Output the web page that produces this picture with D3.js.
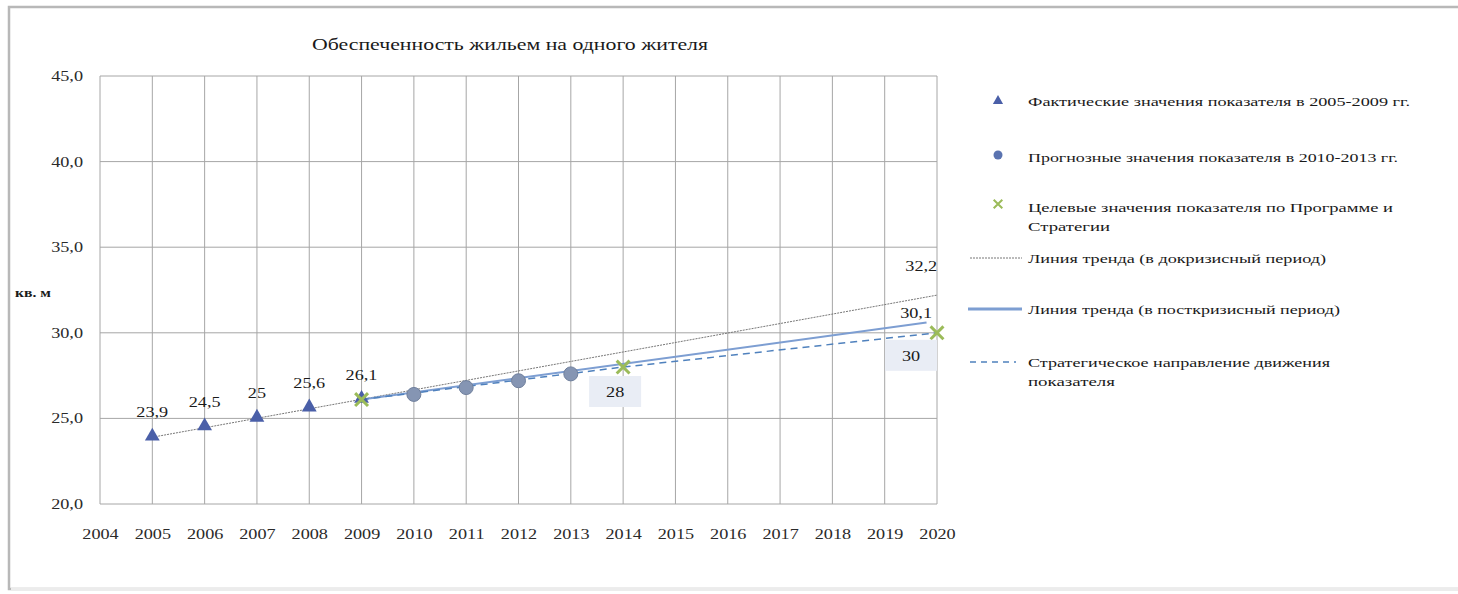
<!DOCTYPE html>
<html lang="ru">
<head>
    <meta charset="UTF-8">
    <title>Обеспеченность жильем на одного жителя</title>
    <style>
        body {
            margin: 0;
            background: #fff;
            overflow: hidden;
        }
        svg text {
            font-family: "Liberation Serif", "DejaVu Serif", serif;
            fill: #1a1a1a;
        }
        .tick text {
            font-size: 14px;
            fill: #2a2a2a;
        }
        .grid line {
            stroke: #a6a6a6;
            stroke-width: 1;
        }
    </style>
</head>
<body>
    <svg id="chart" width="1458" height="594"></svg>
    <script src="https://d3js.org/d3.v7.min.js"></script>
    <script>
        // values
        const yearTicks = d3.range(2004, 2021);
        const valueTicks = [20, 25, 30, 35, 40, 45];

        const actualYears = [2005, 2006, 2007, 2008, 2009];
        const actualValues = [23.9, 24.5, 25, 25.6, 26.1];

        const forecastYears = [2010, 2011, 2012, 2013];
        const forecastValues = [26.4, 26.8, 27.2, 27.6];

        const targetYears = [2009, 2014, 2020];
        const targetValues = [26.1, 28, 30];

        const preTrendYears = [2005, 2020];
        const preTrendValues = [23.9, 32.2];

        const postTrendYears = [2009, 2019.8];
        const postTrendValues = [26.1, 30.6];

        const strategyYears = [2009, 2014, 2020];
        const strategyValues = [26.1, 28, 30];

        const legendLabels = [
            ["Фактические значения показателя в 2005-2009 гг."],
            ["Прогнозные значения показателя в 2010-2013 гг."],
            ["Целевые значения показателя по Программе и", "Стратегии"],
            ["Линия тренда (в докризисный период)"],
            ["Линия тренда (в посткризисный период)"],
            ["Стратегическое направление движения", "показателя"]
        ];

        const triColor = "#4a5fa8";
        const circColor = "#8595b3";
        const xColor = "#9bbb59";
        const postColor = "#7d9ed2";
        const dashColor = "#4f81bd";

        const svg = d3.select("#chart");
        const comma = s => String(s).replace(".", ",");

        // outer frame (right edge runs past the picture)
        svg.append("rect")
            .attr("x", 9).attr("y", 7)
            .attr("width", 1470).attr("height", 582)
            .attr("fill", "#fff")
            .attr("stroke", "#b8b8b8")
            .attr("stroke-width", 2.5);
        svg.append("line")
            .attr("x1", 11).attr("x2", 1458).attr("y1", 589).attr("y2", 589)
            .attr("stroke", "#ececec").attr("stroke-width", 3);

        const x = d3.scaleLinear().domain([2004, 2020]).range([100, 937]);
        const y = d3.scaleLinear().domain([20, 45]).range([504, 76]);

        // grid
        const grid = svg.append("g").attr("class", "grid");
        grid.selectAll(".v").data(yearTicks).enter().append("line")
            .attr("x1", d => x(d)).attr("x2", d => x(d))
            .attr("y1", y(45)).attr("y2", y(20));
        grid.selectAll(".h").data(valueTicks).enter().append("line")
            .attr("x1", x(2004)).attr("x2", x(2020))
            .attr("y1", d => y(d)).attr("y2", d => y(d));

        // axes (labels only)
        svg.append("g")
            .attr("transform", `translate(${x(2004)},0)`)
            .call(d3.axisLeft(y).tickValues(valueTicks).tickSize(0).tickPadding(17)
                .tickFormat(d => comma(d3.format(".1f")(d))));
        svg.append("g")
            .attr("transform", `translate(0,${y(20)})`)
            .call(d3.axisBottom(x).tickValues(yearTicks).tickSize(0).tickPadding(25)
                .tickFormat(d3.format("d")));
        svg.selectAll(".domain").remove();

        // title and unit
        svg.append("text")
            .attr("x", 312).attr("y", 50)
            .attr("font-size", 17)
            .attr("textLength", 396).attr("lengthAdjust", "spacingAndGlyphs")
            .text("Обеспеченность жильем на одного жителя");
        svg.append("text")
            .attr("x", 15).attr("y", 297)
            .attr("font-size", 12).attr("font-weight", "bold")
            .attr("class", "wide")
            .text("кв. м");

        const line = d3.line().x(d => x(d[0])).y(d => y(d[1]));

        // trend lines
        svg.append("path")
            .datum(d3.zip(preTrendYears, preTrendValues))
            .attr("d", line)
            .attr("fill", "none").attr("stroke", "#777")
            .attr("stroke-width", 1).attr("stroke-dasharray", "2,1");
        svg.append("path")
            .datum(d3.zip(postTrendYears, postTrendValues))
            .attr("d", line)
            .attr("fill", "none").attr("stroke", postColor)
            .attr("stroke-width", 2);
        svg.append("path")
            .datum(d3.zip(strategyYears, strategyValues))
            .attr("d", line)
            .attr("fill", "none").attr("stroke", dashColor)
            .attr("stroke-width", 1.5).attr("stroke-dasharray", "7,5");

        // markers
        const tri = d3.symbol().type(d3.symbolTriangle).size(95);
        const cross = d3.symbol().type(d3.symbolX).size(110);

        svg.selectAll(".tri").data(d3.zip(actualYears, actualValues)).enter()
            .append("path")
            .attr("transform", d => `translate(${x(d[0])},${y(d[1]) - 1})`)
            .attr("d", tri)
            .attr("fill", triColor);

        svg.selectAll(".circ").data(d3.zip(forecastYears, forecastValues)).enter()
            .append("circle")
            .attr("cx", d => x(d[0])).attr("cy", d => y(d[1]))
            .attr("r", 7)
            .attr("fill", circColor)
            .attr("stroke", "#6f7f9c").attr("stroke-width", 1);

        svg.selectAll(".cross").data(d3.zip(targetYears, targetValues)).enter()
            .append("path")
            .attr("transform", d => `translate(${x(d[0])},${y(d[1])})`)
            .attr("d", cross)
            .attr("fill", "none")
            .attr("stroke", xColor).attr("stroke-width", 3);

        // data labels above actual points
        svg.selectAll(".alab").data(d3.zip(actualYears, actualValues)).enter()
            .append("text")
            .attr("class", "wide")
            .attr("x", d => x(d[0])).attr("y", d => y(d[1]) - 20)
            .attr("text-anchor", "middle").attr("font-size", 14)
            .text(d => comma(d[1]));

        // target labels in boxes (2014, 2020)
        const boxed = d3.zip(targetYears, targetValues).slice(1);
        const bl = svg.selectAll(".blab").data(boxed).enter().append("g")
            .attr("transform", (d, i) => i === 0
                ? `translate(${x(d[0]) - 8},${y(d[1]) + 25})`
                : `translate(${x(d[0]) - 26},${y(d[1]) + 23})`);
        bl.append("rect")
            .attr("x", -26).attr("y", -16)
            .attr("width", 52).attr("height", 31)
            .attr("fill", "#e9edf5");
        bl.append("text")
            .attr("class", "wide")
            .attr("text-anchor", "middle").attr("y", 5)
            .attr("font-size", 14)
            .text(d => comma(d[1]));

        // trend end labels
        svg.append("text")
            .attr("class", "wide")
            .attr("x", x(2019.7)).attr("y", y(preTrendValues[1]) - 24)
            .attr("text-anchor", "middle").attr("font-size", 14)
            .text(comma(preTrendValues[1]));
        svg.append("text")
            .attr("class", "wide")
            .attr("x", x(2019.6)).attr("y", y(30.1) - 13)
            .attr("text-anchor", "middle").attr("font-size", 14)
            .text("30,1");

        // legend
        const legendRows = [101, 157, 207, 258, 309, 362];
        const legendWidths = [[382], [370], [365, 82], [298], [312], [302, 87]];
        const lg = svg.append("g");
        legendLabels.forEach((lines, i) => {
            lines.forEach((t, j) => {
                lg.append("text")
                    .attr("x", 1028).attr("y", legendRows[i] + 5 + j * 19)
                    .attr("font-size", 13.5)
                    .attr("textLength", legendWidths[i][j]).attr("lengthAdjust", "spacingAndGlyphs")
                    .text(t);
            });
        });
        lg.append("path")
            .attr("transform", `translate(998,${legendRows[0]})`)
            .attr("d", d3.symbol().type(d3.symbolTriangle).size(45))
            .attr("fill", triColor);
        lg.append("circle")
            .attr("cx", 998).attr("cy", legendRows[1] - 2).attr("r", 4.5)
            .attr("fill", "#5a73b0");
        lg.append("path")
            .attr("transform", `translate(998,${legendRows[2] - 3})`)
            .attr("d", d3.symbol().type(d3.symbolX).size(50))
            .attr("fill", "none").attr("stroke", xColor).attr("stroke-width", 2);
        lg.append("line")
            .attr("x1", 970).attr("x2", 1022)
            .attr("y1", legendRows[3]).attr("y2", legendRows[3])
            .attr("stroke", "#777").attr("stroke-dasharray", "2,1");
        lg.append("line")
            .attr("x1", 968).attr("x2", 1022)
            .attr("y1", legendRows[4]).attr("y2", legendRows[4])
            .attr("stroke", postColor).attr("stroke-width", 3);
        lg.append("line")
            .attr("x1", 970).attr("x2", 1016)
            .attr("y1", legendRows[5]).attr("y2", legendRows[5])
            .attr("stroke", dashColor).attr("stroke-width", 1.5).attr("stroke-dasharray", "6,5");

        // the original text is stretched sideways, widen ticks and labels to match
        svg.selectAll(".tick text, text.wide").each(function () {
            const w = this.getComputedTextLength();
            d3.select(this).attr("textLength", w * 1.3).attr("lengthAdjust", "spacingAndGlyphs");
        });
    </script>
</body>
</html>
